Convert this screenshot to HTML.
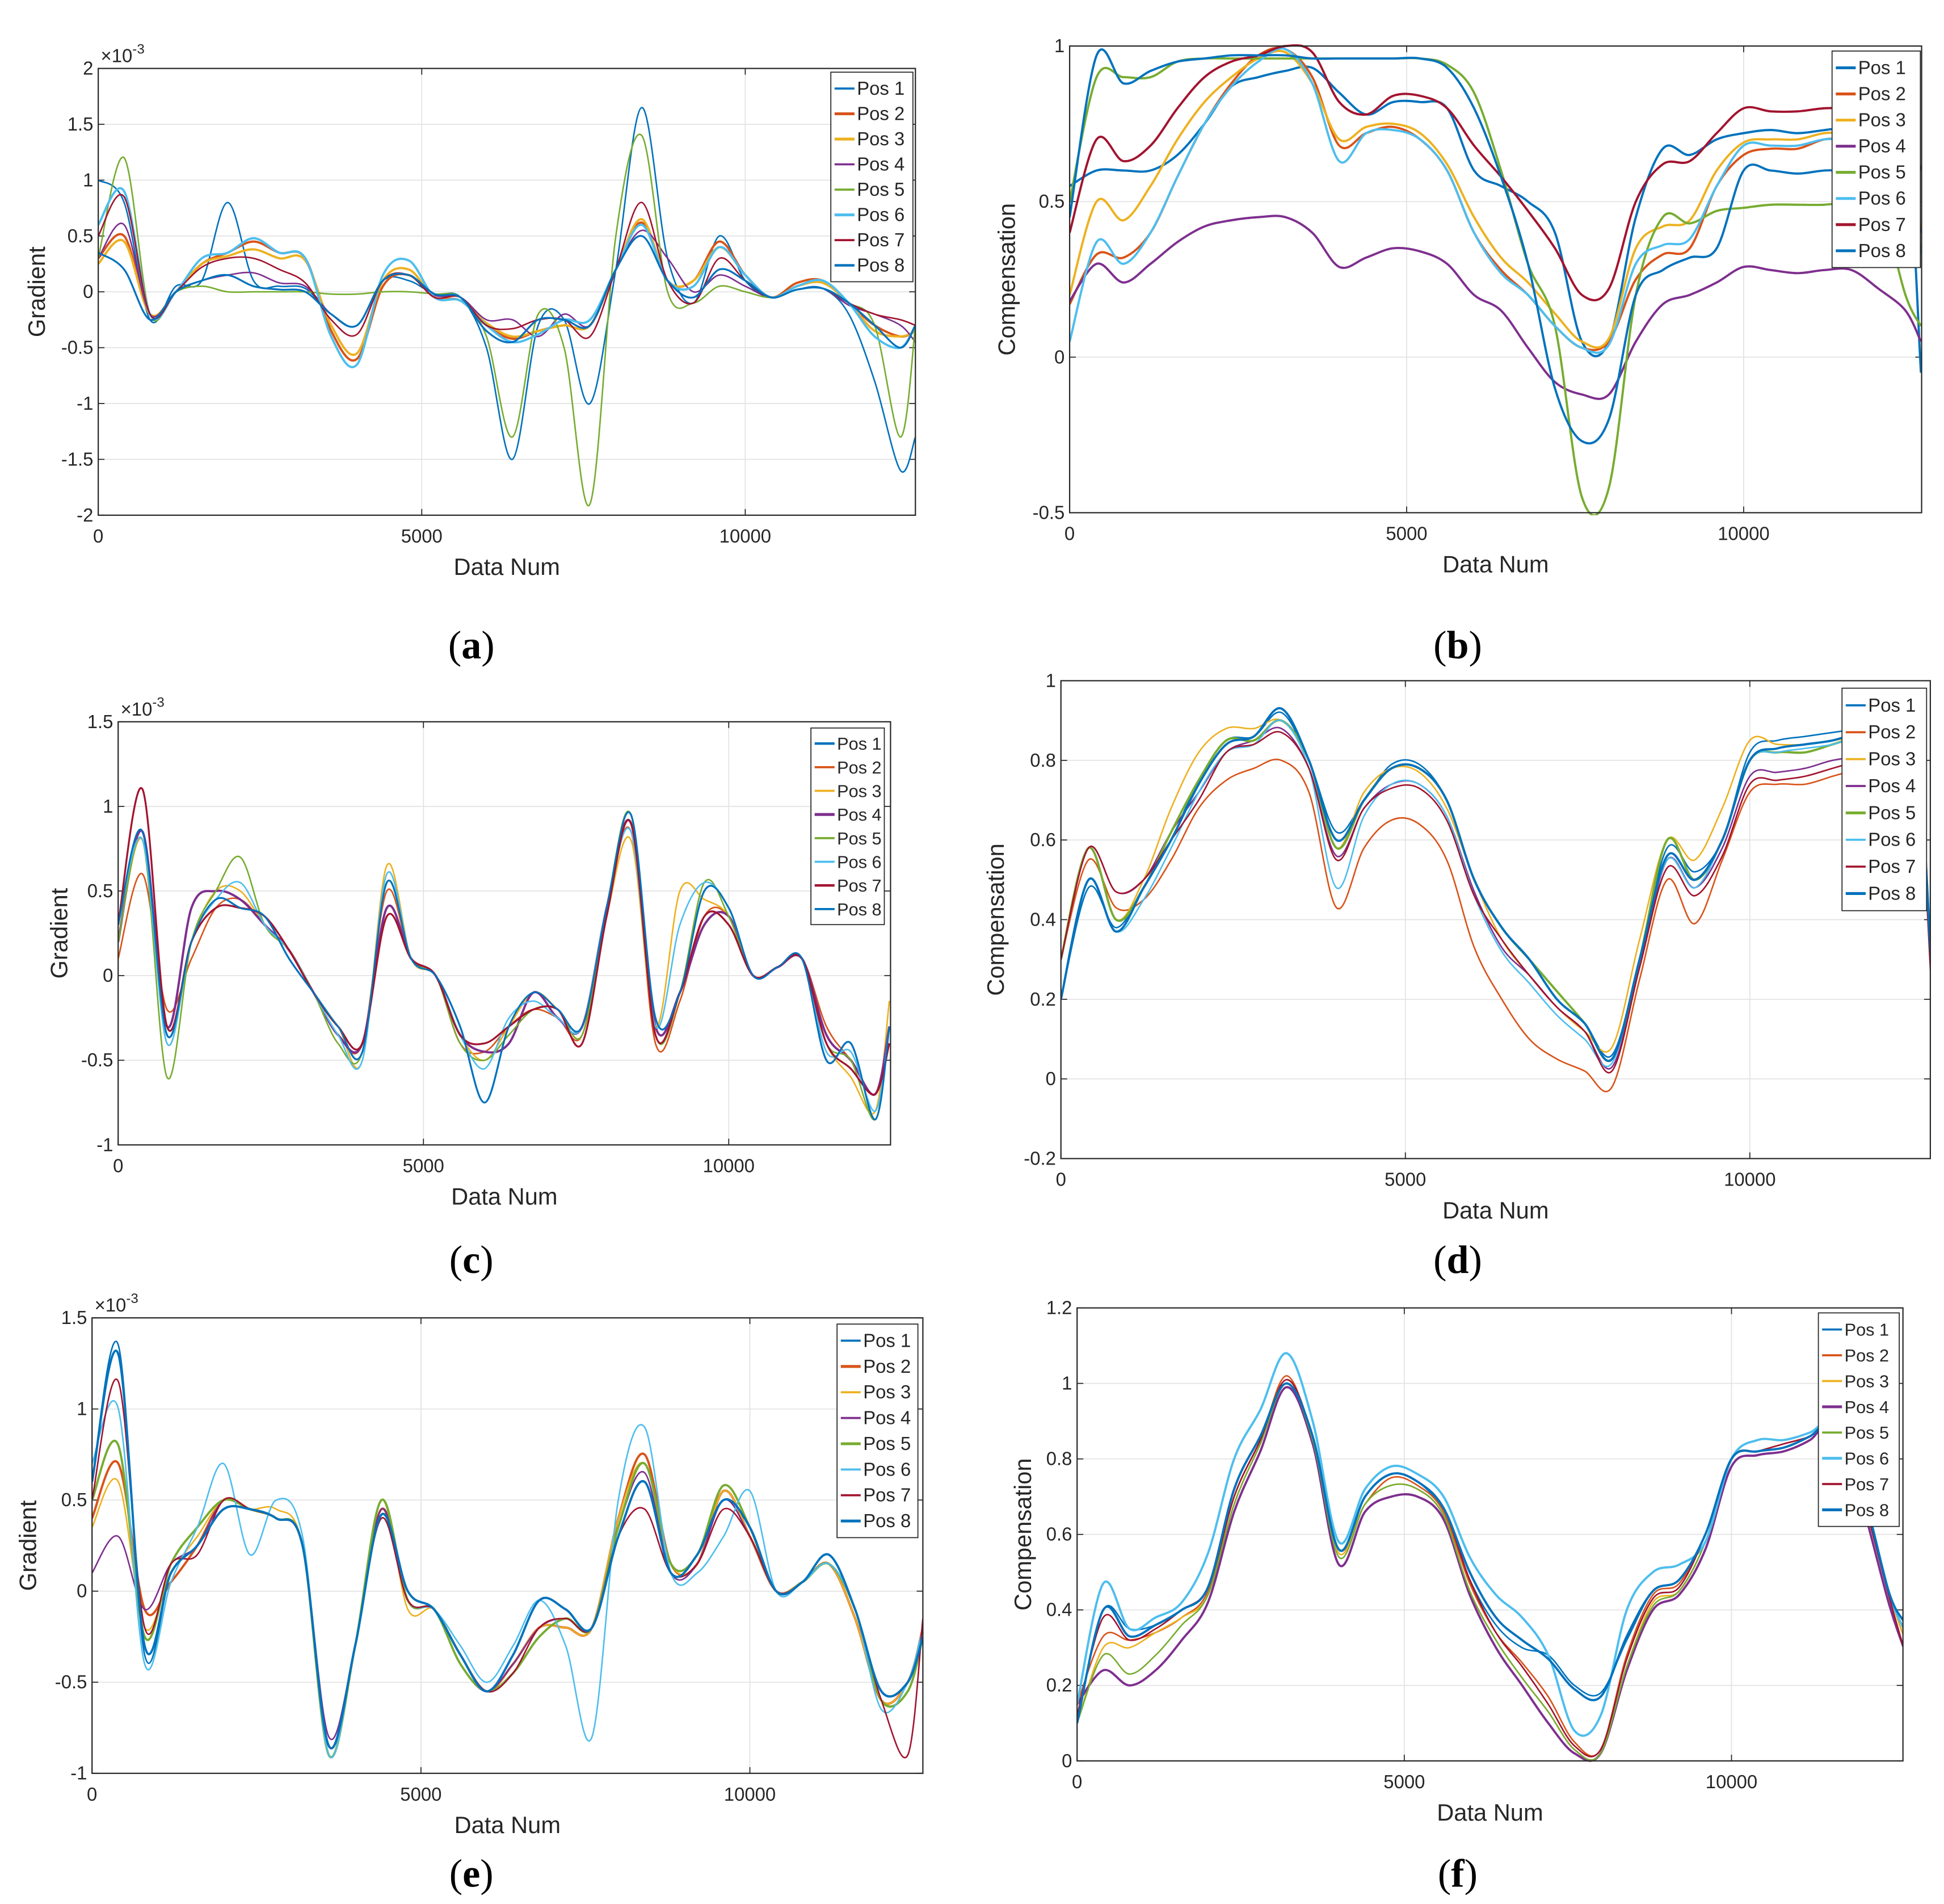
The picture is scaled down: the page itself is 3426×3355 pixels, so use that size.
<!DOCTYPE html>
<html><head><meta charset="utf-8"><style>
html,body{margin:0;padding:0;background:#fff}
svg{display:block}
text{font-family:"Liberation Sans",sans-serif;fill:#262626}
</style></head><body>
<svg id="fig" width="3426" height="3355" viewBox="0 0 1563 1530" preserveAspectRatio="none" xmlns="http://www.w3.org/2000/svg"></svg>
<script>
const xs=[0,400,800,1200,1600,2000,2400,2800,3200,3600,4000,4400,4800,5200,5600,6000,6400,6800,7200,7600,8000,8400,8800,9200,9600,10000,10400,10800,11200,11600,12000,12400,12630];
const seriesNames=["Pos 1","Pos 2","Pos 3","Pos 4","Pos 5","Pos 6","Pos 7","Pos 8"];
const colors=["#0072BD","#D95319","#EDB120","#7E2F8E","#77AC30","#4DBEEE","#A2142F","#0072BD"];
// panel a (x1e-3)
const a1=[1.0,0.8,-0.25,0.05,0.1,0.8,0.1,0.05,0.03,-0.2,-0.3,0.1,0.1,-0.02,-0.05,-0.5,-1.5,-0.3,-0.25,-1.0,0.2,1.65,0.3,-0.1,0.5,0.1,-0.05,0.02,0.03,-0.2,-0.8,-1.6,-1.3];
const a2=[0.3,0.5,-0.2,0.0,0.25,0.35,0.45,0.35,0.3,-0.35,-0.6,0.05,0.15,-0.05,-0.08,-0.3,-0.42,-0.35,-0.3,-0.3,0.2,0.62,0.1,0.1,0.45,0.15,-0.05,0.08,0.1,-0.1,-0.3,-0.4,-0.35];
const a3=[0.25,0.45,-0.2,0.0,0.25,0.32,0.38,0.3,0.28,-0.3,-0.55,0.1,0.2,-0.05,-0.08,-0.28,-0.4,-0.35,-0.3,-0.3,0.2,0.65,0.1,0.1,0.4,0.15,-0.05,0.05,0.08,-0.1,-0.35,-0.4,-0.35];
const a4=[0.3,0.6,-0.2,0.0,0.1,0.15,0.17,0.08,0.05,-0.2,-0.3,0.1,0.15,-0.03,-0.05,-0.25,-0.25,-0.4,-0.2,-0.3,0.2,0.55,0.3,0.0,0.15,0.05,-0.05,0.02,0.03,-0.12,-0.2,-0.3,-0.45];
const a5=[0.3,1.2,-0.2,0.0,0.05,0.0,0.0,0.0,0.0,-0.02,-0.02,0.0,0.0,-0.02,-0.05,-0.4,-1.3,-0.2,-0.5,-1.9,0.5,1.4,0.0,-0.1,0.05,0.0,-0.05,0.02,0.03,-0.1,-0.3,-1.3,-0.3];
const a6=[0.6,0.9,-0.2,0.0,0.3,0.35,0.48,0.35,0.3,-0.4,-0.65,0.15,0.28,-0.05,-0.08,-0.3,-0.45,-0.38,-0.25,-0.25,0.2,0.6,0.1,0.05,0.4,0.15,-0.05,0.05,0.1,-0.1,-0.4,-0.5,-0.3];
const a7=[0.5,0.85,-0.2,0.0,0.22,0.3,0.3,0.2,0.08,-0.25,-0.38,0.1,0.15,-0.05,-0.05,-0.3,-0.33,-0.25,-0.25,-0.4,0.2,0.8,0.1,-0.1,0.3,0.1,-0.05,0.02,0.03,-0.1,-0.2,-0.25,-0.3];
const a8=[0.35,0.2,-0.25,0.0,0.1,0.15,0.05,0.02,0.0,-0.2,-0.3,0.1,0.15,-0.02,-0.05,-0.35,-0.45,-0.25,-0.25,-0.3,0.2,0.5,0.1,-0.05,0.2,0.1,-0.05,0.02,0.03,-0.1,-0.3,-0.5,-0.3];
// panel b
const b1=[0.55,0.6,0.6,0.6,0.65,0.75,0.87,0.9,0.92,0.93,0.85,0.78,0.82,0.82,0.8,0.6,0.55,0.5,0.4,0.05,0.05,0.45,0.67,0.65,0.7,0.72,0.73,0.72,0.73,0.74,0.74,0.74,-0.05];
const b2=[0.17,0.33,0.32,0.4,0.58,0.75,0.88,0.97,0.99,0.9,0.68,0.72,0.74,0.7,0.6,0.4,0.28,0.2,0.1,0.03,0.05,0.25,0.33,0.35,0.55,0.65,0.67,0.67,0.7,0.7,0.7,0.72,0.4];
const b3=[0.2,0.5,0.44,0.55,0.7,0.82,0.9,0.96,0.98,0.88,0.7,0.74,0.75,0.72,0.62,0.45,0.32,0.24,0.14,0.05,0.06,0.35,0.42,0.44,0.6,0.69,0.7,0.7,0.72,0.72,0.72,0.73,0.4];
const b4=[0.18,0.3,0.24,0.3,0.37,0.42,0.44,0.45,0.45,0.4,0.29,0.32,0.35,0.34,0.3,0.2,0.15,0.03,-0.08,-0.12,-0.12,0.05,0.17,0.2,0.24,0.29,0.28,0.27,0.28,0.28,0.22,0.15,0.05];
const b5=[0.5,0.9,0.9,0.9,0.95,0.96,0.96,0.96,0.96,0.96,0.96,0.96,0.96,0.96,0.94,0.85,0.6,0.3,0.1,-0.45,-0.42,0.2,0.45,0.43,0.47,0.48,0.49,0.49,0.49,0.5,0.5,0.2,0.1];
const b6=[0.05,0.37,0.3,0.4,0.58,0.75,0.87,0.95,0.99,0.88,0.63,0.72,0.73,0.7,0.6,0.4,0.27,0.2,0.1,0.03,0.04,0.3,0.36,0.38,0.55,0.68,0.68,0.68,0.7,0.7,0.7,0.72,0.33];
const b7=[0.4,0.7,0.63,0.68,0.8,0.9,0.95,0.97,1.0,0.98,0.82,0.78,0.84,0.84,0.8,0.68,0.58,0.47,0.35,0.2,0.22,0.5,0.62,0.63,0.72,0.8,0.79,0.79,0.8,0.8,0.8,0.8,0.6];
const b8=[0.45,0.97,0.88,0.92,0.95,0.96,0.97,0.97,0.97,0.96,0.96,0.96,0.96,0.96,0.93,0.8,0.58,0.3,-0.1,-0.27,-0.2,0.2,0.28,0.32,0.35,0.6,0.6,0.59,0.6,0.6,0.6,0.6,0.4];
// panel c (x1e-3)
const c1=[0.3,0.85,-0.35,0.2,0.45,0.4,0.35,0.1,-0.1,-0.3,-0.45,0.55,0.1,0.0,-0.3,-0.75,-0.3,-0.1,-0.2,-0.3,0.4,0.95,-0.25,-0.1,0.5,0.4,0.0,0.05,0.1,-0.5,-0.4,-0.85,-0.3];
const c2=[0.1,0.6,-0.2,0.1,0.4,0.45,0.3,0.15,-0.1,-0.35,-0.4,0.5,0.1,0.0,-0.4,-0.45,-0.3,-0.2,-0.25,-0.35,0.4,0.85,-0.4,-0.15,0.35,0.35,0.0,0.05,0.1,-0.3,-0.5,-0.7,-0.3];
const c3=[0.2,0.8,-0.4,0.2,0.5,0.5,0.3,0.15,-0.1,-0.3,-0.5,0.65,0.1,0.0,-0.35,-0.5,-0.3,-0.1,-0.2,-0.35,0.35,0.8,-0.3,0.5,0.45,0.35,0.0,0.05,0.1,-0.4,-0.6,-0.8,-0.15];
const c4=[0.2,0.85,-0.3,0.4,0.5,0.45,0.3,0.15,-0.1,-0.35,-0.4,0.4,0.1,0.0,-0.35,-0.45,-0.4,-0.1,-0.25,-0.3,0.4,0.9,-0.3,-0.1,0.3,0.35,0.0,0.05,0.1,-0.35,-0.5,-0.7,-0.3];
const c5=[0.2,0.8,-0.6,0.2,0.5,0.7,0.3,0.15,-0.1,-0.4,-0.45,0.55,0.1,0.0,-0.4,-0.5,-0.35,-0.2,-0.2,-0.35,0.4,0.95,-0.35,-0.1,0.55,0.35,0.0,0.05,0.1,-0.4,-0.5,-0.85,-0.3];
const c6=[0.3,0.8,-0.4,0.2,0.45,0.55,0.3,0.15,-0.1,-0.35,-0.5,0.6,0.1,0.0,-0.35,-0.55,-0.25,-0.15,-0.25,-0.3,0.4,0.85,-0.3,0.3,0.55,0.4,0.0,0.05,0.1,-0.45,-0.45,-0.8,-0.3];
const c7=[0.3,1.1,-0.3,0.2,0.4,0.4,0.35,0.15,-0.1,-0.3,-0.4,0.35,0.1,0.0,-0.35,-0.4,-0.3,-0.2,-0.2,-0.4,0.35,0.9,-0.35,-0.1,0.35,0.3,0.0,0.05,0.1,-0.4,-0.55,-0.7,-0.4];
const c8=[0.3,0.85,-0.35,0.2,0.45,0.4,0.35,0.1,-0.1,-0.3,-0.45,0.55,0.1,0.0,-0.3,-0.75,-0.3,-0.1,-0.2,-0.3,0.4,0.95,-0.25,-0.1,0.5,0.4,0.0,0.05,0.1,-0.5,-0.4,-0.85,-0.3];
// panel d
const d1=[0.2,0.48,0.38,0.48,0.6,0.75,0.85,0.86,0.92,0.8,0.62,0.7,0.79,0.79,0.7,0.5,0.38,0.3,0.2,0.14,0.06,0.3,0.58,0.52,0.6,0.82,0.85,0.86,0.87,0.88,0.89,0.9,0.3];
const d2=[0.3,0.55,0.43,0.45,0.55,0.68,0.75,0.78,0.8,0.72,0.43,0.58,0.65,0.64,0.55,0.33,0.2,0.1,0.05,0.02,-0.02,0.25,0.5,0.39,0.55,0.72,0.74,0.74,0.76,0.78,0.8,0.82,0.3];
const d3=[0.3,0.58,0.4,0.5,0.68,0.82,0.88,0.88,0.9,0.8,0.58,0.72,0.78,0.77,0.68,0.5,0.35,0.26,0.18,0.12,0.08,0.35,0.6,0.55,0.68,0.85,0.84,0.84,0.85,0.86,0.87,0.88,0.3];
const d4=[0.3,0.58,0.47,0.5,0.62,0.72,0.82,0.85,0.88,0.78,0.56,0.68,0.74,0.74,0.66,0.47,0.33,0.26,0.18,0.12,0.03,0.28,0.55,0.48,0.58,0.76,0.77,0.78,0.8,0.81,0.82,0.84,0.3];
const d5=[0.3,0.58,0.4,0.48,0.62,0.75,0.85,0.85,0.9,0.8,0.58,0.7,0.78,0.78,0.7,0.5,0.38,0.3,0.22,0.14,0.05,0.3,0.6,0.5,0.6,0.8,0.82,0.82,0.84,0.86,0.87,0.88,0.3];
const d6=[0.2,0.5,0.37,0.45,0.58,0.72,0.82,0.84,0.9,0.78,0.48,0.66,0.74,0.74,0.66,0.46,0.32,0.24,0.16,0.1,0.04,0.3,0.55,0.48,0.6,0.8,0.82,0.83,0.84,0.86,0.87,0.88,0.3];
const d7=[0.3,0.58,0.47,0.5,0.6,0.7,0.82,0.84,0.87,0.78,0.55,0.68,0.73,0.73,0.65,0.46,0.35,0.26,0.18,0.12,0.02,0.28,0.53,0.46,0.56,0.74,0.75,0.76,0.78,0.8,0.82,0.84,0.25];
const d8=[0.2,0.5,0.37,0.48,0.6,0.74,0.84,0.86,0.93,0.8,0.6,0.7,0.78,0.78,0.7,0.5,0.38,0.3,0.2,0.14,0.05,0.3,0.56,0.5,0.6,0.8,0.83,0.84,0.85,0.87,0.88,0.89,0.3];
// panel e (x1e-3)
const e1=[0.6,1.35,-0.35,0.1,0.25,0.45,0.45,0.4,0.25,-0.85,-0.3,0.45,0.0,-0.1,-0.35,-0.55,-0.35,-0.05,-0.1,-0.2,0.3,0.6,0.1,0.2,0.5,0.35,0.0,0.05,0.2,-0.1,-0.55,-0.5,-0.25];
const e2=[0.4,0.7,-0.1,0.05,0.25,0.5,0.45,0.4,0.25,-0.85,-0.3,0.45,-0.05,-0.1,-0.35,-0.55,-0.4,-0.2,-0.2,-0.2,0.4,0.75,0.15,0.15,0.55,0.3,0.0,0.05,0.15,-0.15,-0.6,-0.5,-0.2];
const e3=[0.35,0.6,-0.2,0.1,0.3,0.5,0.45,0.45,0.25,-0.9,-0.3,0.5,-0.1,-0.1,-0.35,-0.55,-0.4,-0.2,-0.2,-0.2,0.4,0.7,0.15,0.15,0.55,0.3,0.0,0.05,0.15,-0.15,-0.6,-0.5,-0.2];
const e4=[0.1,0.3,-0.1,0.15,0.25,0.5,0.45,0.4,0.25,-0.8,-0.3,0.45,-0.05,-0.1,-0.4,-0.55,-0.4,-0.2,-0.15,-0.2,0.35,0.65,0.1,0.15,0.5,0.3,0.0,0.05,0.15,-0.1,-0.55,-0.5,-0.2];
const e5=[0.5,0.8,-0.25,0.15,0.35,0.5,0.45,0.4,0.25,-0.9,-0.3,0.5,-0.05,-0.1,-0.4,-0.55,-0.45,-0.25,-0.15,-0.2,0.35,0.7,0.15,0.2,0.58,0.35,0.0,0.05,0.15,-0.1,-0.6,-0.55,-0.25];
const e6=[0.7,1.0,-0.4,0.05,0.35,0.7,0.2,0.5,0.3,-0.9,-0.3,0.4,-0.05,-0.1,-0.3,-0.5,-0.3,-0.05,-0.3,-0.8,0.5,0.9,0.1,0.1,0.3,0.55,0.0,0.05,0.15,-0.1,-0.65,-0.5,-0.2];
const e7=[0.5,1.15,-0.2,0.15,0.2,0.5,0.45,0.4,0.25,-0.85,-0.3,0.4,-0.05,-0.1,-0.35,-0.55,-0.45,-0.2,-0.15,-0.2,0.3,0.45,0.1,0.15,0.45,0.3,0.0,0.05,0.2,-0.1,-0.6,-0.9,-0.15];
const e8=[0.6,1.3,-0.3,0.1,0.25,0.45,0.45,0.4,0.25,-0.85,-0.3,0.42,0.0,-0.1,-0.35,-0.55,-0.35,-0.05,-0.1,-0.2,0.3,0.6,0.1,0.2,0.5,0.35,0.0,0.05,0.2,-0.1,-0.55,-0.5,-0.25];
// panel f
const f1=[0.1,0.4,0.35,0.36,0.4,0.46,0.72,0.86,1.0,0.85,0.56,0.7,0.76,0.74,0.66,0.48,0.36,0.3,0.28,0.2,0.18,0.32,0.45,0.48,0.6,0.8,0.82,0.83,0.86,0.9,0.72,0.45,0.37];
const f2=[0.15,0.33,0.32,0.34,0.38,0.45,0.7,0.85,1.02,0.85,0.56,0.68,0.75,0.73,0.66,0.47,0.34,0.26,0.17,0.05,0.03,0.28,0.44,0.47,0.6,0.8,0.82,0.84,0.86,0.9,0.7,0.45,0.33];
const f3=[0.1,0.3,0.3,0.34,0.38,0.44,0.68,0.84,1.0,0.84,0.55,0.68,0.73,0.72,0.65,0.45,0.32,0.22,0.13,0.03,0.02,0.25,0.42,0.45,0.58,0.8,0.82,0.83,0.86,0.9,0.7,0.45,0.33];
const f4=[0.15,0.24,0.2,0.24,0.32,0.42,0.66,0.82,0.99,0.84,0.52,0.66,0.7,0.7,0.64,0.44,0.3,0.2,0.1,0.02,0.02,0.24,0.4,0.44,0.56,0.78,0.81,0.82,0.85,0.9,0.68,0.42,0.3];
const f5=[0.1,0.28,0.23,0.28,0.36,0.44,0.68,0.84,1.0,0.85,0.54,0.68,0.73,0.72,0.65,0.45,0.32,0.22,0.13,0.03,0.02,0.25,0.41,0.45,0.58,0.8,0.82,0.83,0.86,0.9,0.7,0.45,0.35];
const f6=[0.15,0.47,0.35,0.38,0.42,0.55,0.8,0.93,1.08,0.9,0.58,0.72,0.78,0.76,0.7,0.54,0.44,0.38,0.28,0.08,0.12,0.4,0.5,0.52,0.58,0.8,0.85,0.85,0.87,0.9,0.72,0.45,0.35];
const f7=[0.12,0.38,0.32,0.35,0.4,0.46,0.7,0.85,1.01,0.86,0.56,0.7,0.76,0.74,0.67,0.48,0.34,0.25,0.15,0.04,0.03,0.27,0.43,0.46,0.6,0.8,0.82,0.84,0.86,0.9,0.7,0.44,0.3];
const f8=[0.1,0.4,0.33,0.36,0.4,0.46,0.72,0.86,1.0,0.86,0.56,0.7,0.76,0.74,0.67,0.5,0.38,0.32,0.27,0.19,0.17,0.33,0.45,0.48,0.6,0.8,0.82,0.83,0.86,0.9,0.72,0.45,0.37];

const yTicksA=[-2,-1.5,-1,-0.5,0,0.5,1,1.5,2];
const yTicksB=[-0.5,0,0.5,1];
const yTicksC=[-1,-0.5,0,0.5,1,1.5];
const yTicksD=[-0.2,0,0.2,0.4,0.6,0.8,1];
const yTicksE=[-1,-0.5,0,0.5,1,1.5];
const yTicksF=[0,0.2,0.4,0.6,0.8,1,1.2];
const xTicks=[0,5000,10000];

const NS="http://www.w3.org/2000/svg";
const svg=document.getElementById('fig');
function mk(tag,attrs,parent){const e=document.createElementNS(NS,tag);for(const k in attrs)e.setAttribute(k,attrs[k]);(parent||svg).appendChild(e);return e;}
function smooth(pts){let d='M'+pts[0][0].toFixed(2)+','+pts[0][1].toFixed(2);
 for(let i=0;i<pts.length-1;i++){const p0=pts[Math.max(0,i-1)],p1=pts[i],p2=pts[i+1],p3=pts[Math.min(pts.length-1,i+2)];
 const c1x=p1[0]+(p2[0]-p0[0])/6,c1y=p1[1]+(p2[1]-p0[1])/6,c2x=p2[0]-(p3[0]-p1[0])/6,c2y=p2[1]-(p3[1]-p1[1])/6;
 d+=' C'+c1x.toFixed(2)+','+c1y.toFixed(2)+' '+c2x.toFixed(2)+','+c2y.toFixed(2)+' '+p2[0].toFixed(2)+','+p2[1].toFixed(2);}
 return d;}

function panel(cfg){
 const g=mk('g',{});
 
 
 const {L,R,T,B,ymin,ymax,xmax}=cfg;
 const sx=v=>L+(v/xmax)*(R-L), sy=v=>B-(v-ymin)/(ymax-ymin)*(B-T);
 cfg.yt.forEach(t=>{const y=sy(t);
  const gl=mk('line',{x1:L,x2:R,y1:y,y2:y,stroke:'#e3e3e3','stroke-width':0.8},g);
  
  const tx=mk('text',{x:L-4,y:y+5,'text-anchor':'end','font-size':15},g);tx.textContent=String(t);
  
  mk('line',{x1:L,x2:L+5,y1:y,y2:y,stroke:'#262626','stroke-width':0.8},g);
  mk('line',{x1:R,x2:R-5,y1:y,y2:y,stroke:'#262626','stroke-width':0.8},g);
 });
 xTicks.forEach(t=>{const x=sx(t);
  const gl=mk('line',{x1:x,x2:x,y1:T,y2:B,stroke:'#e3e3e3','stroke-width':0.8},g);
  
  const tx=mk('text',{x:x,y:B+22,'text-anchor':'middle','font-size':15},g);tx.textContent=String(t);
  
  mk('line',{x1:x,x2:x,y1:B,y2:B-5,stroke:'#262626','stroke-width':0.8},g);
  mk('line',{x1:x,x2:x,y1:T,y2:T+5,stroke:'#262626','stroke-width':0.8},g);
 });
 const clipId='clip'+cfg.id;
 const cp=mk('clipPath',{id:clipId},g);mk('rect',{x:L,y:T-2,width:R-L,height:B-T+4},cp);
 cfg.data.forEach((arr,i)=>{
  const pts=xs.map((x,j)=>[sx(x),sy(arr[j])]);
  const p=mk('path',{d:smooth(pts),fill:'none',stroke:colors[i],'stroke-width':cfg.lw[i],'clip-path':'url(#'+clipId+')','stroke-linejoin':'round'},g);
  
  
 });
 const bx=mk('rect',{x:L,y:T,width:R-L,height:B-T,fill:'none',stroke:'#262626','stroke-width':1},g);
 
 const xl=mk('text',{x:(L+R)/2,y:B+48,'text-anchor':'middle','font-size':19},g);xl.textContent='Data Num';
 
 const yl=mk('text',{x:0,y:0,'text-anchor':'middle','font-size':19,transform:'translate('+cfg.ylx+','+(T+B)/2+') rotate(-90)'},g);yl.textContent=cfg.ylabel;
 
 if(cfg.exp){const ex=mk('text',{x:L+2,y:T-5,'font-size':15},g);ex.innerHTML='×10<tspan dy="-7" font-size="11">-3</tspan>';
  }
 const lg=mk('g',{},g);
 const [lx,ly,lw2,lsp]=cfg.leg;
 mk('rect',{x:lx,y:ly,width:lw2,height:lsp*8+6,fill:'#fff',stroke:'#262626','stroke-width':0.8},lg);
 seriesNames.forEach((n,i)=>{const yy=ly+lsp*(i+0.5)+3;
  const e=mk('g',{},lg);
  mk('line',{x1:lx+3,x2:lx+19,y1:yy,y2:yy,stroke:colors[i],'stroke-width':cfg.lw[i]+0.5},e);
  const t=mk('text',{x:lx+21,y:yy+5,'font-size':cfg.lfs},e);t.textContent=n;});
 const pl=mk('text',{x:cfg.plx,y:cfg.ply,'text-anchor':'middle','font-size':32,style:'font-family:"Liberation Serif",serif;fill:#000'},g);
 pl.innerHTML='(<tspan font-weight="bold">'+cfg.id+'</tspan>)';
 
}
const thick=[1.8,1.8,1.8,1.8,1.8,1.8,1.8,1.8];
panel({id:'a',L:79,R:736,T:55,B:414,ymin:-2,ymax:2,xmax:12630,yt:yTicksA,data:[a1,a2,a3,a4,a5,a6,a7,a8],lw:[1.2,1.8,1.8,1.2,1.2,1.8,1.2,1.5],ylabel:'Gradient',ylx:36,exp:true,leg:[668,58,66,20.3],lfs:15,plx:379,ply:529});
panel({id:'b',L:860,R:1545,T:37,B:412,ymin:-0.5,ymax:1,xmax:12640,yt:yTicksB,data:[b1,b2,b3,b4,b5,b6,b7,b8],lw:thick,ylabel:'Compensation',ylx:816,exp:false,leg:[1473,41,71,21],lfs:15,plx:1172,ply:529});
panel({id:'c',L:95,R:716,T:580,B:920,ymin:-1,ymax:1.5,xmax:12650,yt:yTicksC,data:[c1,c2,c3,c4,c5,c6,c7,c8],lw:[1.5,1.2,1.2,1.8,1.2,1.2,1.5,1.2],ylabel:'Gradient',ylx:54,exp:true,leg:[652,585,59,19],lfs:14,plx:379,ply:1023});
panel({id:'d',L:853,R:1552,T:547,B:931,ymin:-0.2,ymax:1,xmax:12620,yt:yTicksD,data:[d1,d2,d3,d4,d5,d6,d7,d8],lw:[1.2,1.2,1.2,1.2,1.8,1.2,1.2,1.8],ylabel:'Compensation',ylx:807,exp:false,leg:[1481,553,68,21.6],lfs:15,plx:1172,ply:1023});
panel({id:'e',L:74,R:742,T:1059,B:1425,ymin:-1,ymax:1.5,xmax:12630,yt:yTicksE,data:[e1,e2,e3,e4,e5,e6,e7,e8],lw:[1.2,1.8,1.2,1.2,1.8,1.2,1.2,1.8],ylabel:'Gradient',ylx:29,exp:true,leg:[673,1064,65,20.7],lfs:15,plx:379,ply:1516});
panel({id:'f',L:866,R:1530,T:1051,B:1415,ymin:0,ymax:1.2,xmax:12620,yt:yTicksF,data:[f1,f2,f3,f4,f5,f6,f7,f8],lw:[1.2,1.2,1.2,1.8,1.2,1.8,1.2,1.8],ylabel:'Compensation',ylx:829,exp:false,leg:[1462,1055,65,20.7],lfs:14,plx:1172,ply:1516});
</script>
</body></html>
